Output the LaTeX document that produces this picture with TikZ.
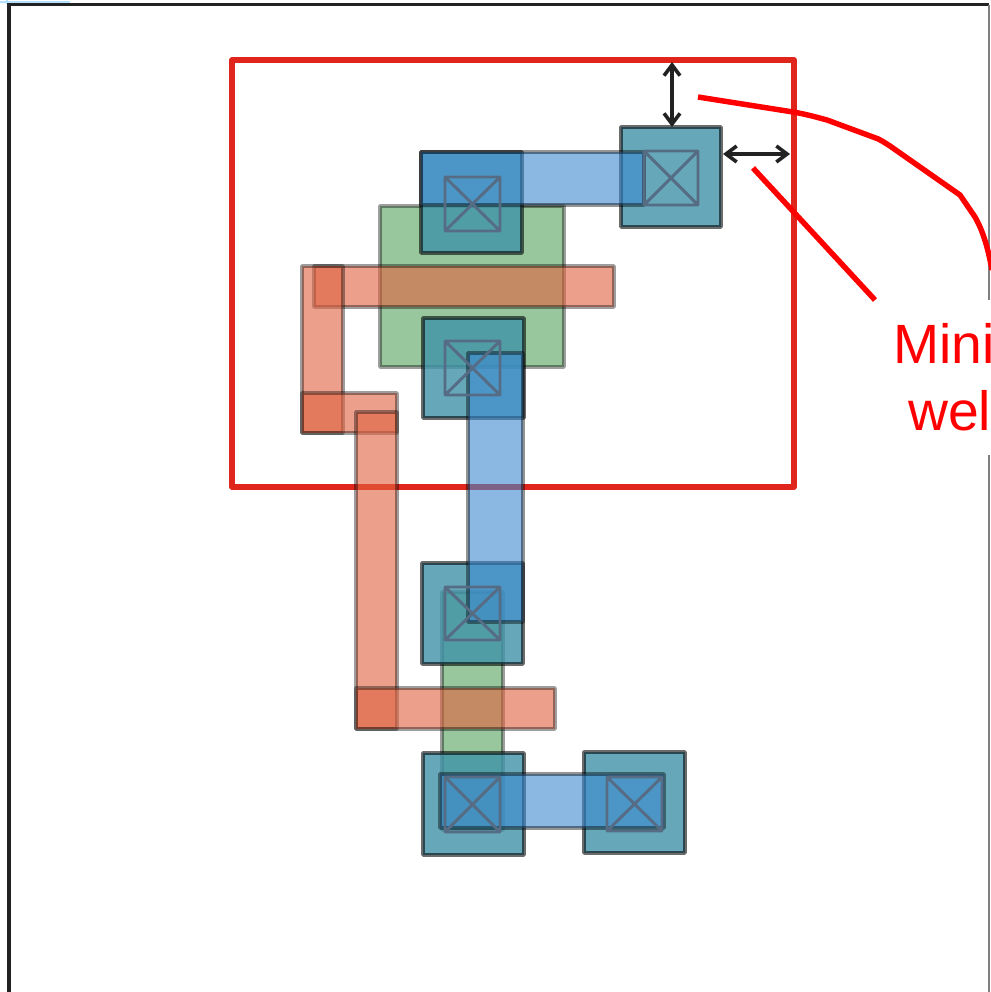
\documentclass[tikz,border=0pt]{standalone}
\usepackage{fontspec}
\setmainfont{Liberation Sans}
\usetikzlibrary{arrows.meta}
\definecolor{wellred}{HTML}{E0261C}
\definecolor{labelred}{HTML}{FF0000}
\definecolor{polyc}{HTML}{E0623F}
\definecolor{diffc}{HTML}{55A25C}
\definecolor{metalc}{HTML}{3C8AD0}
\definecolor{padc}{HTML}{4093A9}
\definecolor{contactc}{HTML}{566C84}
\definecolor{inkc}{HTML}{222222}
\tikzset{
  x=0.75pt, y=-0.75pt,
  poly/.style={fill=polyc, fill opacity=.6, draw=black, draw opacity=.38, line width=2.6pt, line join=round},
  diff/.style={fill=diffc, fill opacity=.6, draw=black, draw opacity=.38, line width=2.6pt, line join=round},
  metal/.style={fill=metalc, fill opacity=.6, draw=black, draw opacity=.42, line width=2.6pt, line join=round},
  pad/.style={fill=padc, fill opacity=.8, draw=black, draw opacity=.58, line width=2.7pt, line join=round},
  contact/.style={draw=contactc, line width=2.2pt, line join=round},
  well/.style={draw=wellred, line width=4.3pt, line join=round},
  leader/.style={draw=labelred, line width=4.1pt},
  dim/.style={draw=inkc, line width=2.7pt, {Straight Barb[length=8pt,width=12pt]}-{Straight Barb[length=8pt,width=12pt]}},
  frameline/.style={draw=inkc, line width=2.4pt},
  redtext/.style={text=labelred, font=\fontsize{41.5pt}{50pt}\selectfont, inner sep=0pt, anchor=base west}
}
\newcommand{\xbox}[4]{%
  \draw[contact] (#1,#2) rectangle (#3,#4) (#1,#2) -- (#3,#4) (#1,#4) -- (#3,#2);}
\begin{document}
\begin{tikzpicture}
\useasboundingbox (0,0) rectangle (990,992);
\fill[white] (0,0) rectangle (990,992);
\draw[draw=blue!40!cyan!30, line width=1pt] (0,2) -- (70,2) (7,0) -- (7,4);
\draw[frameline] (9,992) -- (9,4.5) -- (989,4.5);
\draw[draw=gray, line width=1pt] (989,4.5) -- (989,300) (989,455) -- (989,992);

% well
\draw[well] (232,60) rectangle (794,487);
% diffusion
\draw[diff] (380,206) rectangle (564,367);
\draw[diff] (442,592) rectangle (503,830);
% poly
\draw[poly] (314,266) rectangle (614,307);
\draw[poly] (302,266) rectangle (343,433);
\draw[poly] (302,393) rectangle (397,433);
\draw[poly] (356,412) rectangle (397,729);
\draw[poly] (356,688) rectangle (555,729);
% pads
\draw[pad] (621,127) rectangle (721,227);
\draw[pad] (421,152) rectangle (522,253);
\draw[pad] (423,318) rectangle (524,418);
\draw[pad] (422,563) rectangle (523,664);
\draw[pad] (423,753) rectangle (524,855);
\draw[pad] (584,752) rectangle (685,853);
% metal
\draw[metal] (421,152) rectangle (644,205);
\draw[metal] (468,353) rectangle (523,622);
\draw[metal] (440,774) rectangle (664,828);
% contacts
\xbox{644}{151}{698}{205}
\xbox{445}{177}{500}{231}
\xbox{445}{341}{500}{395}
\xbox{445}{587}{500}{640}
\xbox{445}{777}{500}{832}
\xbox{607}{777}{662}{831}
% dimensions
\coordinate (vt) at (672,62);
\coordinate (vb) at (672,127);
\coordinate (hl) at (723,154);
\coordinate (hr) at (790,154);
\draw[dim] (vt) -- (vb);
\draw[dim] (hl) -- (hr);
% leaders
\coordinate (la) at (698,97);
\coordinate (lb) at (753,168);
\coordinate (lc) at (875,300);
\draw[leader] (la) -- (793,112) .. controls (805,114) and (816,117) .. (827,120) -- (873,137)
  .. controls (880,139) and (885,143) .. (890,146) -- (960,195) -- (975,217)
  .. controls (983,231) and (988,248) .. (992,270);
\draw[leader] (lb) -- (lc);
% text
\node[redtext] (t1) at (893,363) {Mini};
\node[redtext] (t2) at (908,430) {wel};
\end{tikzpicture}
\end{document}
